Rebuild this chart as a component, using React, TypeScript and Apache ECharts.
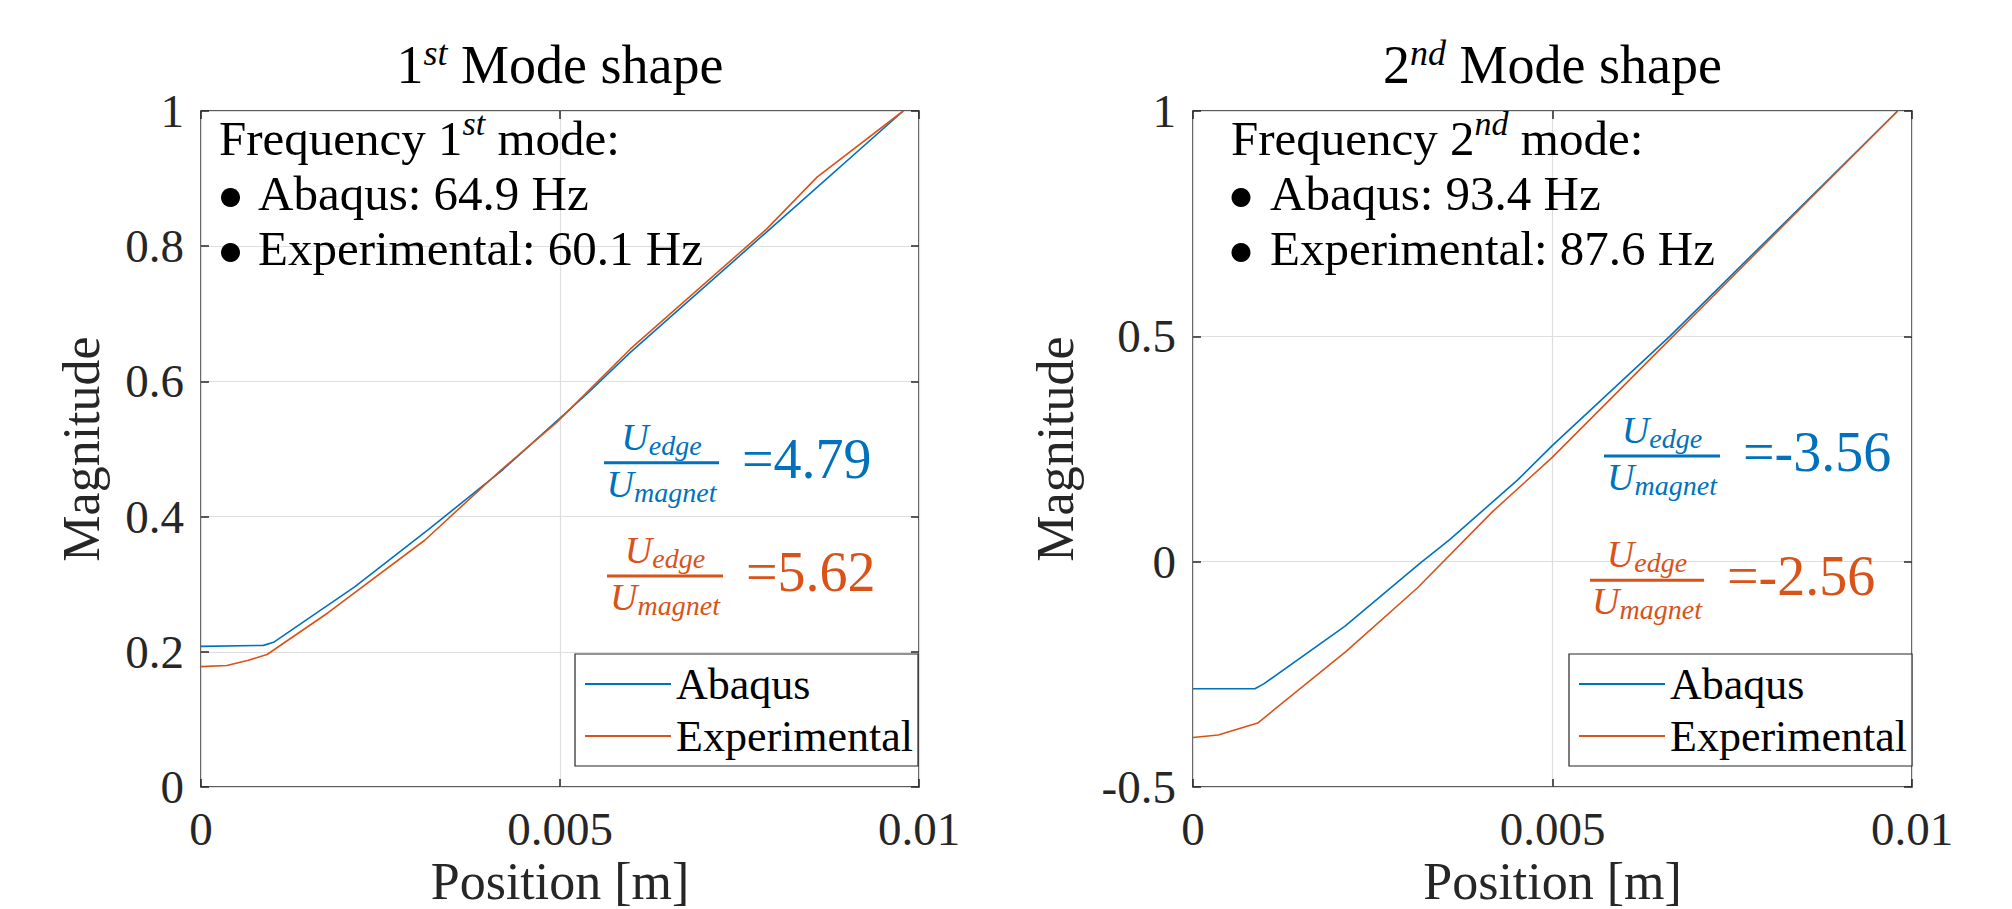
import React, { useEffect, useRef } from "react";
import * as echarts from "echarts";

const FONT = "'Liberation Serif', 'Times New Roman', serif";
const BLUE = "#0072BD";
const ORANGE = "#D95319";
const AXIS_COLOR = "#262626";
const GRID_COLOR = "#dedede";

const seriesNames = ["Abaqus", "Experimental"];
const xTickValues = [0, 0.005, 0.01];
const xTickLabels = ["0", "0.005", "0.01"];
const mode1YTicks = [0, 0.2, 0.4, 0.6, 0.8, 1];
const mode2YTicks = [-0.5, 0, 0.5, 1];

const mode1Abaqus = [
  [0, 0.208], [0.00087, 0.2095], [0.00101, 0.214], [0.00214, 0.296], [0.00317, 0.381],
  [0.00421, 0.47], [0.00444, 0.492], [0.005, 0.5456], [0.00537, 0.581], [0.00598, 0.643],
  [0.00769, 0.8034], [0.00978, 1.0],
];
const mode1Experimental = [
  [0, 0.178], [0.00036, 0.1797], [0.00066, 0.1876], [0.00092, 0.196], [0.00177, 0.2578],
  [0.00312, 0.3654], [0.00419, 0.47], [0.00495, 0.539], [0.00598, 0.648], [0.00788, 0.8256],
  [0.00858, 0.9022], [0.00978, 1.0],
];
const mode2Abaqus = [
  [0, -0.282], [0.00086, -0.282], [0.00099, -0.2707], [0.00211, -0.1435], [0.00316, -0.003],
  [0.00357, 0.0488], [0.00452, 0.182], [0.005, 0.258], [0.00663, 0.5], [0.0098, 1.0],
];
const mode2Experimental = [
  [0, -0.39], [0.00035, -0.3846], [0.0009, -0.358], [0.00213, -0.199], [0.00312, -0.0584],
  [0.00417, 0.1116], [0.005, 0.232], [0.006675, 0.5], [0.0098, 1.0],
];

const modeOrdinals = ["1", "2"];
const modeSuffixes = ["st", "nd"];
const mode1Freqs = ["64.9", "60.1"];
const mode2Freqs = ["93.4", "87.6"];
const mode1Ratios = ["4.79", "5.62"];
const mode2Ratios = ["-3.56", "-2.56"];

type Part = { text: string; size: number; italic?: boolean; dy?: number; color?: string };

export default function App() {
  const ref = useRef<HTMLDivElement>(null);

  useEffect(() => {
    document.body.style.margin = "0";
    if (!ref.current) return;
    const chart = echarts.init(ref.current, undefined, { renderer: "svg" });

    const ctx = document.createElement("canvas").getContext("2d")!;
    const measure = (text: string, size: number, italic?: boolean) => {
      ctx.font = `${italic ? "italic " : ""}${size}px 'Liberation Serif'`;
      return ctx.measureText(text).width;
    };

    const txt = (x: number, baseline: number, text: string, size: number, opts: any = {}) => ({
      type: "text",
      x,
      y: baseline - 0.34 * size,
      silent: true,
      z: 100,
      style: {
        text,
        fontSize: size,
        fontFamily: FONT,
        fontStyle: opts.italic ? "italic" : "normal",
        fill: opts.color || "#000",
        textAlign: opts.align || "left",
        textVerticalAlign: "middle",
      },
    });

    const seq = (x: number, baseline: number, parts: Part[], align: "left" | "center", color?: string) => {
      const widths = parts.map((p) => measure(p.text, p.size, p.italic));
      const total = widths.reduce((a, b) => a + b, 0);
      let cur = align === "center" ? x - total / 2 : x;
      const els: any[] = [];
      parts.forEach((p, i) => {
        els.push(txt(cur, baseline + (p.dy || 0), p.text, p.size, { italic: p.italic, color: p.color || color }));
        cur += widths[i];
      });
      return els;
    };

    const grids = [
      { left: 201, top: 111, width: 718, height: 676 },
      { left: 1193, top: 111, width: 719, height: 676 },
    ];

    const fraction = (x1: number, x2: number, barY: number, color: string, value: string) => {
      const cx = (x1 + x2) / 2;
      return [
        ...seq(cx, barY - 13, [
          { text: "U", size: 38, italic: true },
          { text: "edge", size: 28, italic: true, dy: 5 },
        ], "center", color),
        ...seq(cx, barY + 34, [
          { text: "U", size: 38, italic: true },
          { text: "magnet", size: 28, italic: true, dy: 5 },
        ], "center", color),
        { type: "line", silent: true, z: 100, shape: { x1, y1: barY, x2, y2: barY }, style: { stroke: color, lineWidth: 3 } },
        txt(x2 + 23, barY + 15, "=" + value, 56, { color }),
      ];
    };

    const panels = [
      { grid: grids[0], freqs: mode1Freqs, ratios: mode1Ratios, textX: 219, bulletX: 230.5, itemX: 258, magX: 81,
        fr: [[604, 719, 462.7], [607, 723, 576]] },
      { grid: grids[1], freqs: mode2Freqs, ratios: mode2Ratios, textX: 1231, bulletX: 1241, itemX: 1270, magX: 1055,
        fr: [[1604, 1720, 456], [1590, 1704, 580.3]] },
    ];

    const elements: any[] = [];
    panels.forEach((p, i) => {
      const cx = p.grid.left + p.grid.width / 2;
      elements.push(...seq(cx, 83, [
        { text: modeOrdinals[i], size: 54 },
        { text: modeSuffixes[i], size: 36, italic: true, dy: -18 },
        { text: " Mode shape", size: 54 },
      ], "center"));
      elements.push(...seq(p.textX, 155, [
        { text: "Frequency " + modeOrdinals[i], size: 49 },
        { text: modeSuffixes[i], size: 34, italic: true, dy: -20 },
        { text: " mode:", size: 49 },
      ], "left"));
      [210, 265].forEach((bl, k) => {
        elements.push({ type: "circle", silent: true, z: 100, shape: { cx: p.bulletX, cy: bl - 12.5, r: 9.5 }, style: { fill: "#000" } });
        elements.push(txt(p.itemX, bl, `${seriesNames[k]}: ${p.freqs[k]} Hz`, 49));
      });
      elements.push(...fraction(p.fr[0][0], p.fr[0][1], p.fr[0][2], BLUE, p.ratios[0]));
      elements.push(...fraction(p.fr[1][0], p.fr[1][1], p.fr[1][2], ORANGE, p.ratios[1]));
      elements.push(txt(cx, 899, "Position [m]", 52, { align: "center", color: AXIS_COLOR }));
      elements.push({
        type: "text", silent: true, z: 100, x: p.magX, y: p.grid.top + p.grid.height / 2, rotation: Math.PI / 2,
        style: { text: "Magnitude", fontSize: 52, fontFamily: FONT, fill: AXIS_COLOR, textAlign: "center", textVerticalAlign: "middle" },
      });
    });

    const fmtX = (v: number) => {
      const idx = xTickValues.findIndex((t) => Math.abs(t - v) < 1e-9);
      return idx >= 0 ? xTickLabels[idx] : "";
    };
    const fmtY = (v: number) => String(+v.toFixed(3));

    const tick = { show: true, inside: true, length: 8, lineStyle: { color: AXIS_COLOR, width: 1.5 } };
    const mkX = (gridIndex: number, position: string, main: boolean) => ({
      type: "value", gridIndex, position,
      min: xTickValues[0], max: xTickValues[xTickValues.length - 1], interval: xTickValues[1] - xTickValues[0],
      axisLine: { show: false, onZero: false }, axisTick: tick,
      axisLabel: { show: main, fontSize: 47, color: AXIS_COLOR, fontFamily: FONT, margin: 18, formatter: fmtX, showMinLabel: true, showMaxLabel: true },
      splitLine: { show: main, lineStyle: { color: GRID_COLOR, width: 1.2 } },
    });
    const mkY = (gridIndex: number, position: string, main: boolean, ticks: number[]) => ({
      type: "value", gridIndex, position,
      min: ticks[0], max: ticks[ticks.length - 1], interval: ticks[1] - ticks[0],
      axisLine: { show: false, onZero: false }, axisTick: tick,
      axisLabel: { show: main, fontSize: 47, color: AXIS_COLOR, fontFamily: FONT, margin: 17, formatter: fmtY, showMinLabel: true, showMaxLabel: true },
      splitLine: { show: main, lineStyle: { color: GRID_COLOR, width: 1.2 } },
    });

    const mkSeries = (name: string, data: number[][], axisIndex: number, color: string) => ({
      name, type: "line", xAxisIndex: axisIndex, yAxisIndex: axisIndex, data,
      symbol: "none", showSymbol: false, smooth: false,
      lineStyle: { width: 1.6, color }, itemStyle: { color }, z: 3,
    });

    const mkLegend = (left: number) => ({
      left, top: 654, orient: "vertical", selectedMode: false, data: seriesNames,
      backgroundColor: "#fff", borderColor: AXIS_COLOR, borderWidth: 1.2, borderRadius: 0,
      padding: [8, 5, 8, 9], itemWidth: 86, itemHeight: 14, itemGap: 8,
      itemStyle: { opacity: 0 },
      textStyle: { fontSize: 44, color: "#000", fontFamily: FONT },
    });

    chart.setOption({
      animation: false,
      backgroundColor: "#fff",
      textStyle: { fontFamily: FONT },
      grid: grids.map((g) => ({ ...g, show: true, borderColor: AXIS_COLOR, borderWidth: 1.5, backgroundColor: "transparent" })),
      xAxis: [mkX(0, "bottom", true), mkX(0, "top", false), mkX(1, "bottom", true), mkX(1, "top", false)],
      yAxis: [
        mkY(0, "left", true, mode1YTicks), mkY(0, "right", false, mode1YTicks),
        mkY(1, "left", true, mode2YTicks), mkY(1, "right", false, mode2YTicks),
      ],
      legend: [mkLegend(575), mkLegend(1569)],
      series: [
        mkSeries(seriesNames[0], mode1Abaqus, 0, BLUE),
        mkSeries(seriesNames[1], mode1Experimental, 0, ORANGE),
        mkSeries(seriesNames[0], mode2Abaqus, 2, BLUE),
        mkSeries(seriesNames[1], mode2Experimental, 2, ORANGE),
      ],
      graphic: { elements },
    });

    return () => chart.dispose();
  }, []);

  return <div ref={ref} style={{ width: 2012, height: 909 }} />;
}
